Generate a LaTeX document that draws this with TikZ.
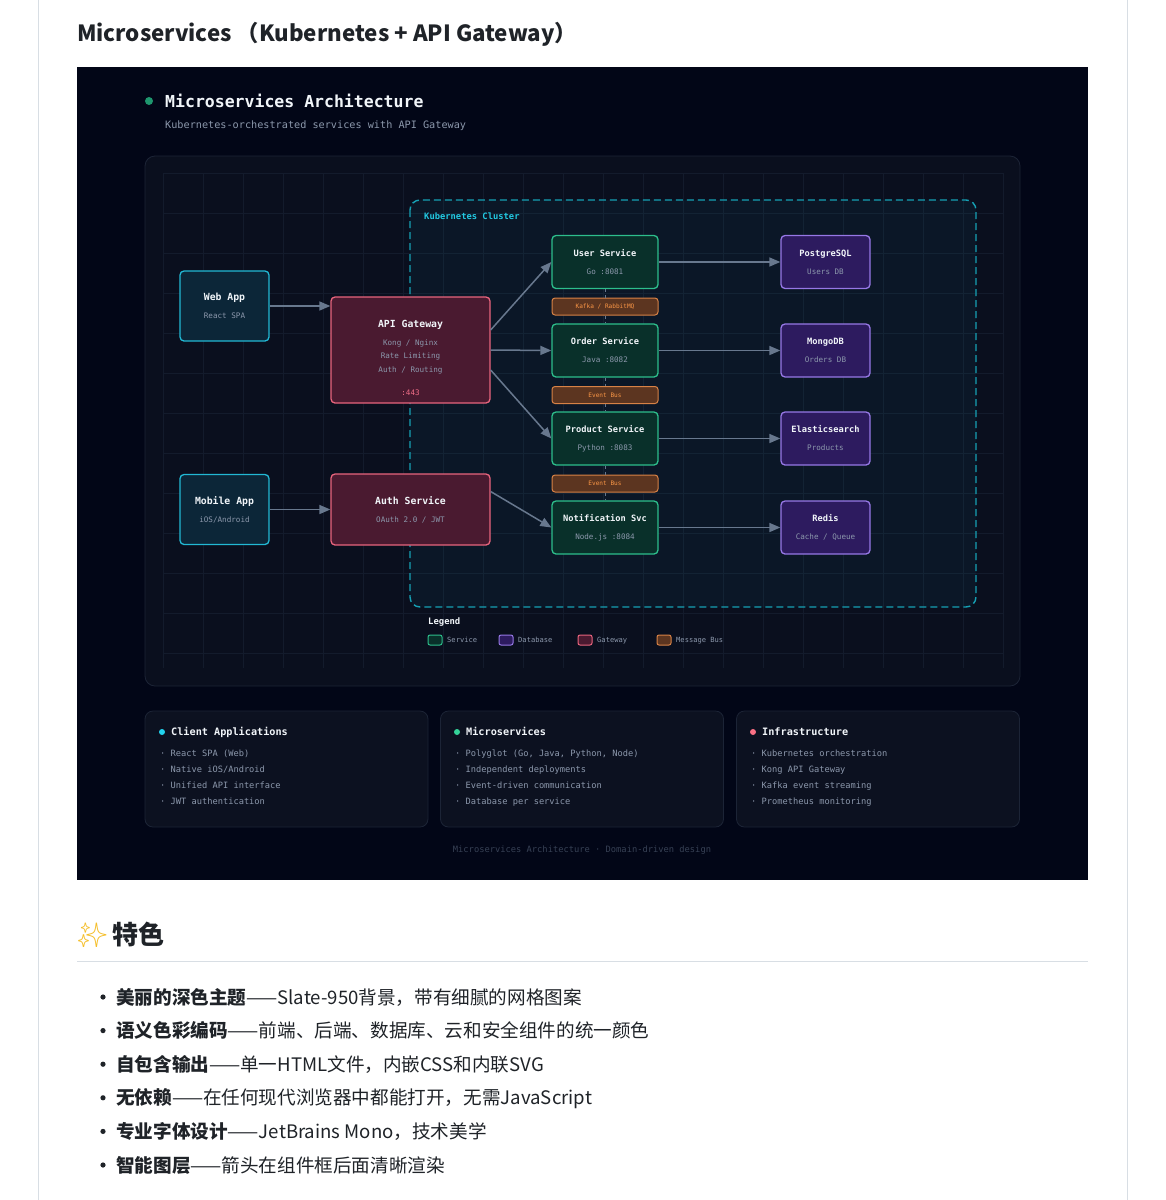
\documentclass[tikz,border=0pt]{standalone}
\usepackage{fontspec}
\usepackage{tikz}
\usetikzlibrary{arrows.meta}
\newfontfamily\mono{DejaVu Sans Mono}
\newfontfamily\cjk{Noto Sans CJK SC}
\newfontfamily\emoji{Noto Emoji}

\definecolor{pagebg}{RGB}{2,6,23}
\definecolor{panelbg}{RGB}{10,15,30}
\definecolor{panelline}{RGB}{28,36,54}
\definecolor{gridc}{RGB}{19,27,44}
\definecolor{k8s}{RGB}{22,160,180}
\definecolor{k8stext}{RGB}{34,200,225}
\definecolor{cyanline}{RGB}{34,184,212}
\definecolor{cyanfill}{RGB}{12,38,56}
\definecolor{roseline}{RGB}{232,100,125}
\definecolor{rosefill}{RGB}{74,26,48}
\definecolor{rosetext}{RGB}{240,110,135}
\definecolor{greenline}{RGB}{45,190,140}
\definecolor{greenfill}{RGB}{9,48,42}
\definecolor{violetline}{RGB}{150,120,230}
\definecolor{violetfill}{RGB}{45,27,95}
\definecolor{busline}{RGB}{215,130,70}
\definecolor{busfill}{RGB}{92,53,32}
\definecolor{bustext}{RGB}{250,150,70}
\definecolor{titlec}{RGB}{241,245,249}
\definecolor{subc}{RGB}{140,152,172}
\definecolor{arrowc}{RGB}{104,120,142}
\definecolor{cardbg}{RGB}{12,17,32}
\definecolor{footc}{RGB}{55,65,85}
\definecolor{inkc}{RGB}{31,35,40}
\definecolor{rulec}{RGB}{216,222,228}
\definecolor{dotk}{RGB}{30,150,110}
\definecolor{dotcyan}{RGB}{34,211,238}
\definecolor{dotgreen}{RGB}{52,211,153}
\definecolor{dotrose}{RGB}{251,113,133}
\definecolor{sparkc}{RGB}{245,190,40}

\newcommand\bigt[1]{{\bfseries\fontsize{9.8}{18}\selectfont #1}}
\newcommand\svct[1]{{\bfseries\fontsize{8.7}{18}\selectfont #1}}
\newcommand\subt[1]{{\color{subc}\fontsize{7.6}{18}\selectfont #1}}

\tikzset{
  txt/.style={inner sep=0pt, anchor=base west},
  box/.style={draw, rounded corners=4pt, line width=1.3pt, inner sep=0pt, align=center,
    text=titlec, font=\mono\fontsize{8}{18}\selectfont},
  client/.style={box, draw=cyanline, fill=cyanfill, minimum width=89pt, minimum height=70pt},
  gate/.style={box, draw=roseline, fill=rosefill, minimum width=159pt},
  svc/.style={box, draw=greenline, fill=greenfill, minimum width=106pt, minimum height=53pt},
  db/.style={box, draw=violetline, fill=violetfill, minimum width=89pt, minimum height=53pt},
  bus/.style={box, line width=1pt, rounded corners=3pt, draw=busline, fill=busfill, text=bustext,
    minimum width=106pt, minimum height=17pt, font=\mono\fontsize{6.1}{8}\selectfont},
  link/.style={-{Triangle[length=11pt,width=9pt]}, draw=arrowc, line width=1.5pt},
  busdash/.style={draw=arrowc, line width=1pt, dash pattern=on 3pt off 3pt},
  card/.style={draw=panelline, fill=cardbg, rounded corners=8pt, line width=.8pt,
    minimum width=283pt, minimum height=116pt, inner sep=0pt},
  item/.style={txt, text=subc, font=\mono\fontsize{8.7}{10}\selectfont},
  swatch/.style={rounded corners=2pt, line width=1pt, minimum width=14pt, minimum height=10pt, inner sep=0pt},
  li/.style={txt, text=inkc, font=\cjk\fontsize{18.6}{22}\selectfont}
}

\begin{document}
\begin{tikzpicture}[x=1pt,y=-1pt]
\useasboundingbox (0,0) rectangle (1166,1200);
\fill[white] (0,0) rectangle (1166,1200);
% the page
\draw[rulec, line width=1pt] (38,0) -- (38,1200);
\draw[rulec, line width=1pt] (1127,0) -- (1127,1200);
\node[txt, text=inkc, font=\cjk\bfseries\fontsize{22.3}{28}\selectfont] (head) at (77,41)
  {Microservices （Kubernetes + API Gateway）};

% the dark canvas
\fill[pagebg] (77,67) rectangle (1088,880);
\fill[dotk] (149,101) circle (4);
\node[txt, text=titlec, font=\mono\bfseries\fontsize{16.5}{20}\selectfont] (title) at (165,107)
  {Microservices Architecture};
\node[txt, text=subc, font=\mono\fontsize{10.2}{12}\selectfont] (subtitle) at (165,128.7)
  {Kubernetes-orchestrated services with API Gateway};

% the diagram panel and its grid
\draw[panelline, fill=panelbg, rounded corners=10pt, line width=.8pt] (145,156) rectangle (1020,686);
\foreach \x in {163,203,...,1003} \draw[gridc, line width=.6pt] (\x,173) -- (\x,668);
\foreach \y in {173,213,...,668} \draw[gridc, line width=.6pt] (163,\y) -- (1003,\y);

% the cluster
\draw[k8s, fill=cyanline, fill opacity=.05, line width=1.4pt, dash pattern=on 7pt off 4pt,
  rounded corners=10pt] (410,200) rectangle (976,607);
\node[txt, text=k8stext, font=\mono\bfseries\fontsize{8.8}{10}\selectfont] (k8s) at (424,219.2)
  {Kubernetes Cluster};

% clients and gateway
\node[client] (web) at (224.5,306) {\bigt{Web App}\\\subt{React SPA}};
\node[client] (mob) at (224.5,509.5) {\bigt{Mobile App}\\\subt{iOS/Android}};
\node[gate, minimum height=106pt] (gw) at (410.5,350) {};
\node[align=center, inner sep=0pt, text=titlec, font=\mono\fontsize{8}{18}\selectfont] (gwtxt) at (410.5,358)
  {\bigt{API Gateway}\\\subt{Kong / Nginx}\\[-5pt]\subt{Rate Limiting}\\[-4pt]\subt{Auth / Routing}\\[5pt]
   {\color{rosetext}\fontsize{7.6}{18}\selectfont :443}};
\node[gate, minimum height=71pt] (auth) at (410.5,509.5) {\bigt{Auth Service}\\\subt{OAuth 2.0 / JWT}};

% services and buses
\node[svc] (usr) at (605,262) {\svct{User Service}\\\subt{Go :8081}};
\node[bus] (kbus) at (605,306.5) {Kafka / RabbitMQ};
\node[svc] (ord) at (605,350.5) {\svct{Order Service}\\\subt{Java :8082}};
\node[bus] (ebus1) at (605,395) {Event Bus};
\node[svc] (prd) at (605,438.5) {\svct{Product Service}\\\subt{Python :8083}};
\node[bus] (ebus2) at (605,483.5) {Event Bus};
\node[svc] (ntf) at (605,527.5) {\svct{Notification Svc}\\\subt{Node.js :8084}};

% databases
\node[db] (pg) at (825.5,262) {\svct{PostgreSQL}\\\subt{Users DB}};
\node[db] (mg) at (825.5,350.5) {\svct{MongoDB}\\\subt{Orders DB}};
\node[db] (es) at (825.5,438.5) {\svct{Elasticsearch}\\\subt{Products}};
\node[db] (rd) at (825.5,527.5) {\svct{Redis}\\\subt{Cache / Queue}};

% the links
\foreach \a/\b in {usr/kbus, kbus/ord, ord/ebus1, ebus1/prd, prd/ebus2, ebus2/ntf}
  \draw[busdash] (\a.south) -- (\b.north);
\draw[link] (web.east) -- (web.east -| gw.west);
\draw[link] (mob.east) -- (mob.east -| auth.west);
\draw[link] ([yshift=20pt]gw.east) -- (usr.west);
\draw[link] (gw.east) -- (ord.west);
\draw[link] ([yshift=-20pt]gw.east) -- (prd.west);
\draw[link] ([yshift=18pt]auth.east) -- (ntf.west);
\foreach \s/\d in {usr/pg, ord/mg, prd/es, ntf/rd} \draw[link] (\s) -- (\d);

% legend
\node[txt, text=titlec, font=\mono\bfseries\fontsize{8.9}{10}\selectfont] (leg) at (428,624.2) {Legend};
\foreach \lc/\fc/\n/\x [count=\i] in {greenline/greenfill/Service/428, violetline/violetfill/Database/499,
    roseline/rosefill/Gateway/578, busline/busfill/Message Bus/657} {
  \node[swatch, draw=\lc, fill=\fc] (sw\i) at (\x+7,640) {};
  \node[txt, text=subc, font=\mono\fontsize{7.1}{9}\selectfont] (lt\i) at (\x+19,642.4) {\n};
}

% the cards
\node[card] (cc) at (286.5,769) {};
\node[card] (cm) at (582,769) {};
\node[card] (ci) at (878,769) {};
\foreach \c/\x/\dc/\t in {cc/145/dotcyan/Client Applications, cm/440/dotgreen/Microservices,
    ci/736/dotrose/Infrastructure} {
  \fill[\dc] (\x+17,732) circle (3);
  \node[txt, text=titlec, font=\mono\bfseries\fontsize{10.2}{12}\selectfont] (\c t) at (\x+26,735.7) {\t};
}
\foreach \t [count=\i] in {React SPA (Web), Native iOS/Android, Unified API interface, JWT authentication}
  \node[item] (cc\i) at (160,740.1+16*\i) {· \t};
\foreach \t [count=\i] in {{Polyglot (Go, Java, Python, Node)}, Independent deployments,
    Event-driven communication, Database per service}
  \node[item] (cm\i) at (455,740.1+16*\i) {· \t};
\foreach \t [count=\i] in {Kubernetes orchestration, Kong API Gateway, Kafka event streaming,
    Prometheus monitoring}
  \node[item] (ci\i) at (751,740.1+16*\i) {· \t};
\node[text=footc, inner sep=0pt, font=\mono\fontsize{8.75}{10}\selectfont] (foot) at (582,850)
  {Microservices Architecture · Domain-driven design};

% the features below
\node[txt, text=sparkc, font=\emoji\fontsize{24}{28}\selectfont] (spark) at (77,943.5) {✨};
\node[txt, text=inkc, font=\cjk\bfseries\fontsize{26}{30}\selectfont] (feat) at (112,944.9) {特色};
\draw[rulec, line width=1pt] (77,961) -- (1088,961);
\foreach \b/\r [count=\i] in {美丽的深色主题/Slate-950背景，带有细腻的网格图案,
    语义色彩编码/前端、后端、数据库、云和安全组件的统一颜色,
    自包含输出/单一HTML文件，内嵌CSS和内联SVG,
    无依赖/在任何现代浏览器中都能打开，无需JavaScript,
    专业字体设计/JetBrains Mono，技术美学,
    智能图层/箭头在组件框后面清晰渲染} {
  \fill[inkc] (103,963.4+33.6*\i) circle (2.6);
  \node[li] (li\i) at (116,970.5+33.6*\i) {{\bfseries\b}——\r};
}
\end{tikzpicture}
\end{document}
